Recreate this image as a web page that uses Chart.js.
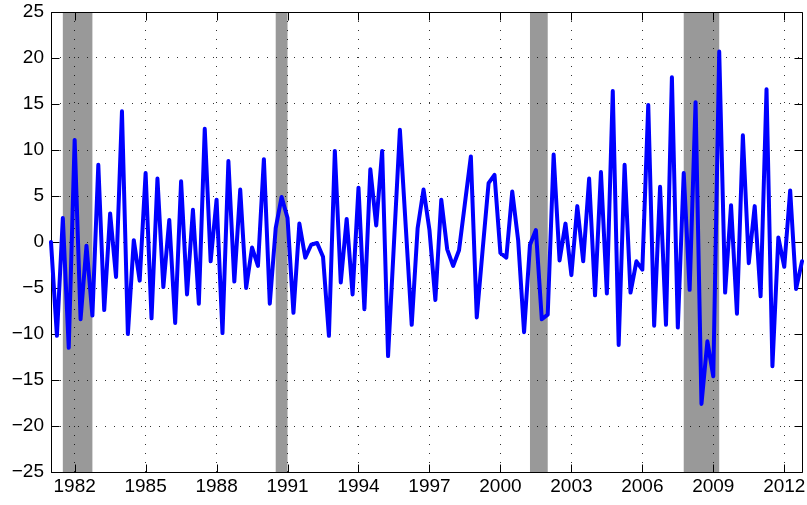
<!DOCTYPE html>
<html>
<head>
<meta charset="utf-8">
<script src="https://cdn.jsdelivr.net/npm/chart.js@4.4.1/dist/chart.umd.min.js"></script>
<style>
    html, body { margin: 0; padding: 0; background: #fff; }
    canvas { display: block; }
</style>
</head>
<body>
<canvas id="chart" width="807" height="505"></canvas>
<script>
// Quarterly series, 1981Q1 - 2012Q4
const firstYear = 1981;
const lastYear = 2012;

const values = [
    0.0, -10.2, 2.6, -11.5,     // 1981
    11.1, -8.4, -0.4, -8.0,     // 1982
    8.4, -7.4, 3.1, -3.8,       // 1983
    14.2, -10.0, 0.2, -4.2,     // 1984
    7.5, -8.3, 6.9, -4.9,       // 1985
    2.4, -8.8, 6.6, -5.7,       // 1986
    3.5, -6.7, 12.3, -2.1,      // 1987
    4.6, -9.9, 8.8, -4.3,       // 1988
    5.7, -5.0, -0.6, -2.6,      // 1989
    9.0, -6.7, 1.5, 4.9,        // 1990
    2.6, -7.7, 2.0, -1.7,       // 1991
    -0.3, -0.1, -1.6, -10.2,    // 1992
    9.9, -4.4, 2.5, -5.7,       // 1993
    5.9, -7.3, 7.9, 1.8,        // 1994
    9.9, -12.4, -0.1, 12.2,     // 1995
    1.6, -9.0, 1.5, 5.7,        // 1996
    1.3, -6.3, 4.6, -0.8,       // 1997
    -2.6, -0.9, 4.2, 9.3,       // 1998
    -8.2, -0.8, 6.4, 7.3,       // 1999
    -1.2, -1.7, 5.5, 0.2,       // 2000
    -9.8, -0.3, 1.3, -8.4,      // 2001
    -7.9, 9.5, -2.0, 2.0,       // 2002
    -3.6, 3.9, -2.1, 6.9,       // 2003
    -5.8, 7.6, -5.6, 16.4,      // 2004
    -11.2, 8.4, -5.5, -2.1,     // 2005
    -3.0, 14.9, -9.1, 6.0,      // 2006
    -9.0, 17.9, -9.3, 7.5,      // 2007
    -5.2, 15.2, -17.6, -10.8,   // 2008
    -14.6, 20.7, -5.5, 4.0,     // 2009
    -7.8, 11.6, -2.3, 3.9,      // 2010
    -5.9, 16.6, -13.5, 0.5,     // 2011
    -2.7, 5.6, -5.1, -2.1       // 2012
];

// Years labelled on the x axis
const tickYears = [1982, 1985, 1988, 1991, 1994, 1997, 2000, 2003, 2006, 2009, 2012];

// Shaded recession periods (first and last quarter edge)
const recessionStart = ['1981Q3', '1990Q3', '2001Q2', '2007Q4'];
const recessionEnd = ['1982Q4', '1991Q1', '2002Q1', '2009Q2'];

// Quarter labels for the category axis
const quarters = [];
for (let y = firstYear; y <= lastYear; y++) {
    for (let q = 1; q <= 4; q++) quarters.push(y + 'Q' + q);
}

const tickFont = { family: "'Liberation Sans', Arial, Helvetica, sans-serif", size: 19 };

// Gray bars behind the grid
const recessionBands = {
    id: 'recessionBands',
    beforeDraw(chart) {
        const { ctx, chartArea, scales: { x } } = chart;
        ctx.save();
        ctx.fillStyle = '#999999';
        recessionStart.forEach((start, i) => {
            const x0 = x.getPixelForValue(quarters.indexOf(start));
            const x1 = x.getPixelForValue(quarters.indexOf(recessionEnd[i]));
            ctx.fillRect(x0, chartArea.top, x1 - x0, chartArea.bottom - chartArea.top);
        });
        ctx.restore();
    }
};

// Full box with inward tick marks
const axesBox = {
    id: 'axesBox',
    beforeDatasetsDraw(chart) {
        const { ctx, chartArea: a, scales: { x, y } } = chart;
        const len = 8;
        const l = Math.round(a.left) + 0.5;
        const r = Math.round(a.right) + 0.5;
        const t = Math.round(a.top) + 0.5;
        const b = Math.round(a.bottom) + 0.5;
        ctx.save();
        ctx.strokeStyle = '#000';
        ctx.lineWidth = 1;
        ctx.beginPath();
        ctx.moveTo(l, t); ctx.lineTo(r, t); ctx.lineTo(r, b); ctx.lineTo(l, b); ctx.closePath();
        x.ticks.forEach((tick, i) => {
            const px = Math.round(x.getPixelForTick(i)) + 0.5;
            ctx.moveTo(px, b); ctx.lineTo(px, b - len);
            ctx.moveTo(px, t); ctx.lineTo(px, t + len);
        });
        y.ticks.forEach((tick, i) => {
            const py = Math.round(y.getPixelForTick(i)) + 0.5;
            ctx.moveTo(l, py); ctx.lineTo(l + len, py);
            ctx.moveTo(r, py); ctx.lineTo(r - len, py);
        });
        ctx.stroke();
        ctx.restore();
    }
};

new Chart(document.getElementById('chart'), {
    type: 'line',
    data: {
        labels: quarters,
        datasets: [{
            data: values,
            borderColor: '#0000ff',
            borderWidth: 4,
            borderJoinStyle: 'round',
            borderCapStyle: 'round',
            pointRadius: 0,
            tension: 0,
            fill: false
        }]
    },
    options: {
        responsive: false,
        animation: false,
        layout: { padding: { top: 12, right: 5, left: 0, bottom: 0 } },
        plugins: {
            legend: { display: false },
            tooltip: { enabled: false }
        },
        scales: {
            x: {
                type: 'category',
                offset: false,
                afterBuildTicks: scale => {
                    scale.ticks = scale.ticks.filter(t => tickYears.includes(Number(quarters[t.value].slice(0, 4))) && quarters[t.value].endsWith('Q1'));
                },
                afterFit: scale => {
                    scale.height = 33;
                    scale.paddingLeft = 0;
                    scale.paddingRight = 0;
                },
                ticks: {
                    autoSkip: false,
                    maxRotation: 0,
                    color: '#000',
                    font: tickFont,
                    padding: 3,
                    callback: value => quarters[value].slice(0, 4)
                },
                grid: { color: 'rgba(0, 0, 0, 0.8)', lineWidth: 1, drawTicks: false },
                border: { display: false, dash: [1, 8] }
            },
            y: {
                min: -25,
                max: 25,
                afterFit: scale => {
                    scale.width = 51;
                    scale.paddingTop = 0;
                    scale.paddingBottom = 0;
                },
                ticks: {
                    stepSize: 5,
                    color: '#000',
                    font: tickFont,
                    padding: 7,
                    callback: v => v < 0 ? '\u2212' + (-v) : String(v)
                },
                grid: { color: 'rgba(0, 0, 0, 0.8)', lineWidth: 1, drawTicks: false },
                border: { display: false, dash: [1, 8] }
            }
        }
    },
    plugins: [recessionBands, axesBox]
});
</script>
</body>
</html>
